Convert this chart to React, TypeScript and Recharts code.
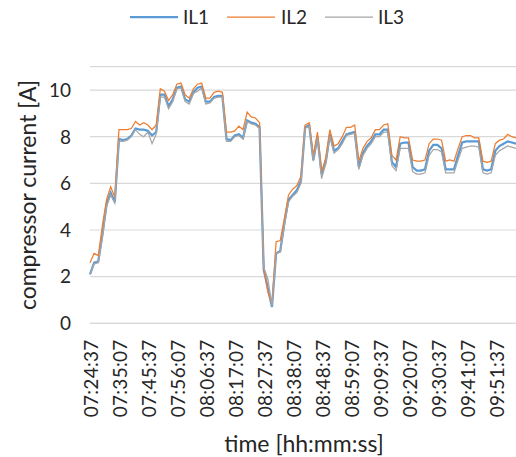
import React from 'react';
import { LineChart, Line, XAxis, YAxis, CartesianGrid } from 'recharts';

const startTime = '07:24:37';
const stepSeconds = 90;

const tickLabels = ['07:24:37','07:35:07','07:45:37','07:56:07','08:06:37','08:17:07','08:27:37','08:38:07','08:48:37','08:59:07','09:09:37','09:20:07','09:30:37','09:41:07','09:51:37'];
const yTicks = [0, 2, 4, 6, 8, 10];

const il1 = [
  2.1,2.6,2.65,3.8,5.1,5.6,5.2,7.9,7.85,7.9,
  8.05,8.35,8.3,8.3,8.25,8.05,8.2,9.8,9.8,9.3,
  9.6,10.1,10.15,9.6,9.5,9.9,10.1,10.15,9.5,9.5,
  9.7,9.75,9.75,7.9,7.85,8.05,8.1,7.95,8.7,8.6,
  8.55,8.4,2.3,1.5,0.7,3.0,3.1,4.3,5.3,5.5,
  5.7,6.1,8.4,8.5,7.0,8.0,6.4,6.9,8.1,7.4,
  7.5,7.8,8.1,8.15,8.2,6.7,7.3,7.6,7.8,8.1,
  8.1,8.3,8.3,6.9,6.7,7.7,7.75,7.75,6.7,6.55,
  6.55,6.6,7.4,7.65,7.65,7.5,6.6,6.6,6.6,7.2,
  7.75,7.8,7.8,7.8,7.8,6.6,6.55,6.6,7.4,7.6,
  7.7,7.8,7.75,7.7,
];

const il2 = [
  2.6,3.0,2.9,4.2,5.3,5.85,5.4,8.3,8.3,8.3,
  8.35,8.65,8.5,8.6,8.5,8.3,8.5,10.05,9.95,9.55,
  9.8,10.25,10.3,9.8,9.65,10.05,10.25,10.3,9.65,9.65,
  9.9,9.95,9.9,8.2,8.2,8.25,8.45,8.3,9.05,8.85,
  8.8,8.6,2.4,1.35,0.8,3.5,3.55,4.5,5.5,5.75,
  5.9,6.3,8.5,8.6,7.2,8.2,6.5,7.1,8.3,7.6,
  7.7,8.0,8.4,8.4,8.5,6.95,7.5,7.8,7.95,8.3,
  8.3,8.5,8.55,7.2,7.0,8.0,7.95,7.95,7.0,6.95,
  6.95,7.0,7.7,7.9,7.9,7.85,6.95,7.0,6.95,7.5,
  8.0,8.05,8.05,7.95,7.95,6.95,6.9,6.95,7.7,7.85,
  7.9,8.1,8.0,7.95,
];

const il3 = [
  2.1,2.55,2.6,3.7,5.0,5.5,5.15,7.8,7.8,7.85,
  8.0,8.3,8.1,8.0,8.2,7.7,8.1,9.7,9.7,9.2,
  9.5,10.05,10.1,9.5,9.4,9.85,9.95,10.1,9.4,9.45,
  9.65,9.7,9.7,7.8,7.8,8.0,8.05,7.9,8.65,8.55,
  8.5,8.35,2.4,1.9,0.75,3.0,3.05,4.2,5.2,5.45,
  5.6,6.0,8.35,8.45,6.95,7.95,6.2,6.85,8.0,7.3,
  7.45,7.7,8.05,8.1,8.15,6.6,7.2,7.5,7.7,8.0,
  8.0,8.2,8.2,6.75,6.55,7.5,7.5,7.5,6.5,6.4,
  6.4,6.45,7.2,7.45,7.45,7.35,6.45,6.45,6.45,7.0,
  7.5,7.55,7.6,7.6,7.55,6.45,6.4,6.45,7.2,7.4,
  7.5,7.6,7.55,7.5,
];

const seriesNames = ['IL1', 'IL2', 'IL3'];
const seriesColors = ['#5B9BD5', '#ED7D31', '#A5A5A5'];
const seriesWidths = [2.25, 1.25, 1.25];

function fmtTime(sec: number): string {
  const h = Math.floor(sec / 3600);
  const m = Math.floor((sec % 3600) / 60);
  const s = sec % 60;
  const p = (n: number) => String(n).padStart(2, '0');
  return `${p(h)}:${p(m)}:${p(s)}`;
}

const [sh, sm, ss] = startTime.split(':').map(Number);
const startSec = sh * 3600 + sm * 60 + ss;

const data = il1.map((v, i) => ({
  t: fmtTime(startSec + i * stepSeconds),
  IL1: v,
  IL2: il2[i],
  IL3: il3[i],
}));

const FONT = 'Lato, "Open Sans", sans-serif';
const TEXT = '#262626';

const XTick = (props: any) => {
  const { x, y, payload } = props;
  const ax = x + 1.5;
  return (
    <text
      x={ax}
      y={y}
      transform={`rotate(-90, ${ax}, ${y})`}
      textAnchor="end"
      dy="0.36em"
      fontFamily={FONT}
      fontSize={19}
      letterSpacing={0.3}
      fill={TEXT}
    >
      {payload.value}
    </text>
  );
};

const YTick = (props: any) => {
  const { x, y, payload } = props;
  return (
    <text x={x} y={y} textAnchor="end" dy="0.36em" fontFamily={FONT} fontSize={19} fill={TEXT}>
      {payload.value}
    </text>
  );
};

const Legend = () => {
  const items = [
    { x1: 130, x2: 178, tx: 183 },
    { x1: 227, x2: 275, tx: 281 },
    { x1: 325, x2: 373, tx: 378 },
  ];
  return (
    <svg width={516} height={36} style={{ position: 'absolute', left: 0, top: 0 }}>
      {items.map((it, k) => (
        <g key={seriesNames[k]}>
          <line x1={it.x1} x2={it.x2} y1={17} y2={17} stroke={seriesColors[k]} strokeWidth={seriesWidths[k]} />
          <text x={it.tx} y={17} dy="0.36em" fontFamily={FONT} fontSize={19} fill={TEXT}>
            {seriesNames[k]}
          </text>
        </g>
      ))}
    </svg>
  );
};

export default function App() {
  return (
    <div style={{ position: 'absolute', left: 0, top: 0, width: 516, height: 457, background: '#fff' }}>
      <LineChart
        width={516}
        height={457}
        data={data}
        margin={{ top: 66.7, right: 0, bottom: 0, left: 0 }}
      >
        <CartesianGrid vertical={false} stroke="#D9D9D9" strokeWidth={1.2} />
        <XAxis
          dataKey="t"
          type="category"
          ticks={tickLabels}
          interval={0}
          height={133.7}
          tick={<XTick />}
          tickLine={false}
          tickSize={0}
          tickMargin={16}
          axisLine={{ stroke: '#D9D9D9', strokeWidth: 1.2 }}
          label={(p: any) => (
            <text x={304} y={444} dy="0.36em" textAnchor="middle" fontFamily={FONT} fontSize={23} fill={TEXT}>
              time [hh:mm:ss]
            </text>
          )}
        />
        <YAxis
          domain={[0, 11]}
          ticks={yTicks}
          width={90}
          axisLine={false}
          tickLine={false}
          tickSize={0}
          tickMargin={19}
          tick={<YTick />}
          label={(p: any) => (
            <text
              x={28}
              y={195}
              transform="rotate(-90, 28, 195)"
              dy="0.36em"
              textAnchor="middle"
              fontFamily={FONT}
              fontSize={23}
              fill={TEXT}
            >
              compressor current [A]
            </text>
          )}
        />
        {seriesNames.map((name, k) => (
          <Line
            key={name}
            dataKey={name}
            type="linear"
            stroke={seriesColors[k]}
            strokeWidth={seriesWidths[k]}
            dot={false}
            activeDot={false}
            isAnimationActive={false}
          />
        ))}
      </LineChart>
      <Legend />
    </div>
  );
}
